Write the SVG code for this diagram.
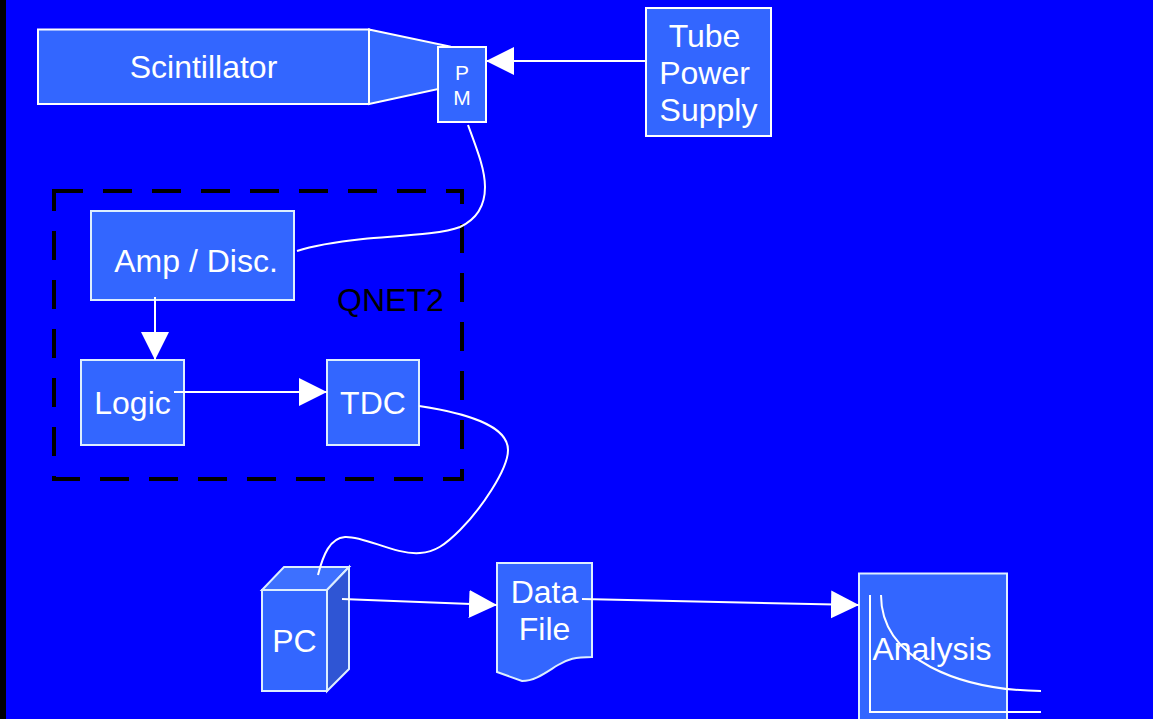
<svg xmlns="http://www.w3.org/2000/svg" width="1153" height="719" viewBox="0 0 1153 719">
<defs>
<marker id="ah" markerUnits="userSpaceOnUse" markerWidth="30" markerHeight="30" refX="28" refY="14" orient="auto"><path d="M0,0 L28,14 L0,28 Z" fill="#fff"/></marker>
</defs>
<style>
.b{fill:#3366ff;stroke:#fff;stroke-width:2}
.bl{fill:#3366ff;stroke:#ddeeff;stroke-width:2}
.l{fill:none;stroke:#fff;stroke-width:2}
.t{font-family:"Liberation Sans",Arial,sans-serif;font-size:32px;fill:#fff;text-anchor:middle}
.a{marker-end:url(#ah)}
</style>
<rect width="1153" height="719" fill="#0000ff"/>
<rect x="0" y="0" width="6" height="719" fill="#000"/>
<g id="scintillator">
<path class="b" d="M369,29.500 L450,46.500 L450,86.500 L369,104 Z"/>
<rect class="b" x="38" y="29.500" width="331" height="74.500"/>
<text class="t" x="203.500" y="78">Scintillator</text>
</g>
<g id="pm">
<rect class="b" x="438" y="47" width="48" height="75"/>
<text class="t" x="462" y="80" style="font-size:21px">P</text>
<text class="t" x="462" y="105" style="font-size:21px">M</text>
</g>
<g id="power">
<rect class="b" x="646" y="8" width="125" height="128"/>
<text class="t" x="704.500" y="47">Tube</text>
<text class="t" x="704.500" y="84">Power</text>
<text class="t" x="708.500" y="121">Supply</text>
</g>
<g id="qnet2">
<rect x="54" y="191" width="408" height="288" fill="none" stroke="#000" stroke-width="4" stroke-dasharray="29 20"/>
<text x="337" y="311" style="font-family:'Liberation Sans',Arial,sans-serif;font-size:32px" fill="#000">QNET2</text>
</g>
<g id="amp">
<rect class="bl" x="91" y="211" width="203" height="89"/>
<text class="t" x="196" y="272">Amp / Disc.</text>
</g>
<g id="logic">
<rect class="bl" x="81" y="360" width="103" height="85"/>
<text class="t" x="132.500" y="414">Logic</text>
</g>
<g id="tdc">
<rect class="bl" x="327" y="360" width="92" height="85"/>
<text class="t" x="373" y="414">TDC</text>
</g>
<g id="pc">
<path d="M262,590 L284,567 L349,567 L327,590 Z" fill="#3d70ff" stroke="#ddeeff" stroke-width="2"/>
<path d="M327,590 L349,567 L349,669 L327,691 Z" fill="#2f55d4" stroke="#ddeeff" stroke-width="2"/>
<rect class="bl" x="262" y="590" width="65" height="101"/>
<text class="t" x="294.500" y="652">PC</text>
</g>
<g id="datafile">
<path class="bl" d="M497,563 L592,563 L592,657 C575,657 568,659 558,665 C545,673 535,681 522,681 L497,672 Z"/>
<text class="t" x="544.500" y="603">Data</text>
<text class="t" x="544.500" y="640">File</text>
</g>
<g id="analysis">
<rect class="bl" x="859" y="573.500" width="148" height="150"/>
<text class="t" x="932" y="660">Analysis</text>
<path class="l" d="M870,595 L870,712 L1041,712"/>
<path class="l" d="M881,595 C881,660 960,690 1041,691"/>
</g>
<g id="connectors">
<path class="l a" d="M646,61 L486,61"/>
<path class="l" d="M468,125 C478,152 485,170 485,187 C485,205 477,219 460,227 C440,235 390,236 363,239 C335,242 315,245 297,251"/>
<path class="l a" d="M155,297 L155,360"/>
<path class="l a" d="M174,392 L327,392"/>
<path class="l" d="M419,406 C465,413 508,425 508,450 C508,470 480,510 460,530 C445,545 435,552 420,553 C395,555 365,536 345,537 C330,538 323,555 318,575"/>
<path class="l a" d="M342,599 L497,605"/>
<path class="l a" d="M582,599 L859,605"/>
</g>
</svg>
